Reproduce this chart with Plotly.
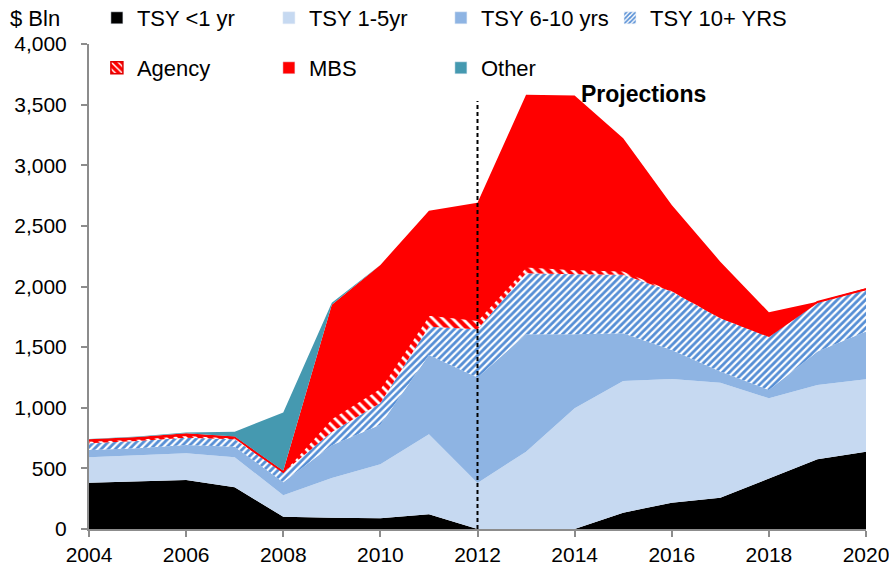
import plotly.graph_objects as go

years = list(range(2004, 2021))
tsy_lt1 = [382, 395, 404, 344, 101, 92, 88, 121, 0, 0, 0, 135, 217, 258, 418, 575, 638]
tsy_1_5 = [210, 213, 221, 248, 177, 328, 446, 660, 380, 638, 996, 1086, 1021, 949, 660, 613, 597]
tsy_6_10 = [60, 57, 68, 87, 107, 270, 326, 655, 870, 968, 610, 394, 239, 91, 69, 275, 393]
tsy_10p = [55, 60, 60, 61, 80, 110, 180, 233, 398, 504, 495, 481, 481, 440, 440, 404, 344]
agency = [20, 20, 22, 15, 5, 115, 125, 97, 76, 54, 41, 35, 12, 10, 5, 5, 6]
mbs = [13, 13, 15, 7, 10, 935, 1013, 858, 966, 1417, 1433, 1092, 703, 457, 196, 3, 8]
other = [2, 4, 5, 41, 480, 15, 0, 0, 0, 0, 0, 0, 0, 0, 0, 0, 0]

names = ["TSY <1 yr", "TSY 1-5yr", "TSY 6-10 yrs", "TSY 10+ YRS", "Agency", "MBS", "Other"]
values = [tsy_lt1, tsy_1_5, tsy_6_10, tsy_10p, agency, mbs, other]
legend_ids = ["legend", "legend", "legend", "legend3", "legend2", "legend2", "legend2"]

FONT = "Liberation Sans, Arial, sans-serif"
BLUE_STRIPE = "#558ed5"
styles = [
    dict(color="#000000", pattern=None, line=0),
    dict(color="#c6d9f1", pattern=None, line=0),
    dict(color="#8eb4e3", pattern=None, line=0),
    dict(color="#ffffff", pattern=dict(shape="/", fgcolor=BLUE_STRIPE, bgcolor="#ffffff",
                                       size=5, solidity=0.55, fgopacity=1), line=0),
    dict(color="#ff0000", pattern=dict(shape="\\", fgcolor="#ffffff", bgcolor="#ff0000",
                                       size=7, solidity=0.4, fgopacity=1), line=2),
    dict(color="#ff0000", pattern=None, line=0),
    dict(color="#4599b0", pattern=None, line=0),
]

fig = go.Figure()
for name, vals, st in zip(names, values, styles):
    kw = dict(x=years, y=vals, name=name, stackgroup="one", mode="lines",
              line=dict(width=st["line"], color="#ff0000" if st["line"] else st["color"]),
              fillcolor=st["color"], showlegend=False, hoverinfo="skip")
    if st["pattern"]:
        kw["fillpattern"] = st["pattern"]
    fig.add_trace(go.Scatter(**kw))

# legend entries
for name, st, lid in zip(names, styles, legend_ids):
    marker = dict(color=st["color"])
    if st["pattern"]:
        sol = 0.3 if name == "Agency" else 0.55
        sz = 6 if name == "Agency" else 4
        marker["pattern"] = dict(shape=st["pattern"]["shape"], fgcolor=st["pattern"]["fgcolor"],
                                 bgcolor=st["pattern"]["bgcolor"], size=sz, solidity=sol, fgopacity=1)
    if name == "Agency":
        marker["line"] = dict(color="#e00000", width=1.5)
    fig.add_trace(go.Bar(x=[None], y=[None], name=name, marker=marker,
                         legend=lid, showlegend=True))

fig.add_shape(type="line", x0=2012, x1=2012, y0=0, y1=3530, xref="x", yref="y",
              line=dict(color="black", width=2, dash="4px,3px"))

fig.add_annotation(x=2014.1, y=3585, xref="x", yref="y", text="<b>Projections</b>",
                   showarrow=False, xanchor="left", yanchor="middle",
                   font=dict(family=FONT, size=23, color="black"))
fig.add_annotation(x=-0.104, y=1.0536, xref="paper", yref="paper", text="$ Bln",
                   showarrow=False, xanchor="left", yanchor="middle",
                   font=dict(family=FONT, size=22, color="black"))

legend_base = dict(orientation="h", xanchor="left", yanchor="middle",
                   xref="container", yref="container", traceorder="normal",
                   font=dict(family=FONT, size=22, color="black"),
                   bgcolor="rgba(0,0,0,0)", itemclick=False, itemdoubleclick=False)
legend_fixed = dict(legend_base, entrywidth=127, entrywidthmode="pixels")

fig.update_layout(
    width=889, height=569,
    margin=dict(l=89, r=23, t=44, b=40, autoexpand=False),
    paper_bgcolor="white", plot_bgcolor="white",
    font=dict(family=FONT, size=21, color="black"),
    showlegend=True,
    hovermode=False,
    legend=dict(x=0.109, y=1 - 18 / 569, **legend_fixed),
    legend3=dict(x=610 / 889, y=1 - 18 / 569, **legend_base),
    legend2=dict(x=0.109, y=1 - 68 / 569, **legend_fixed),
    xaxis=dict(range=[2004, 2020], tickvals=list(range(2004, 2021, 2)),
               showline=True, linecolor="#8c8c8c", linewidth=2,
               ticks="outside", ticklen=6, tickcolor="#8c8c8c", tickwidth=2,
               showgrid=False, zeroline=False, automargin=False, ticklabeloverflow="allow",
               tickfont=dict(family=FONT, size=21, color="black")),
    yaxis=dict(range=[0, 4000], tickvals=list(range(0, 4001, 500)), tickformat=",d",
               showline=True, linecolor="#8c8c8c", linewidth=2,
               ticks="outside", ticklen=6, tickcolor="#8c8c8c", tickwidth=2,
               ticklabelstandoff=10,
               showgrid=False, zeroline=False, automargin=False,
               tickfont=dict(family=FONT, size=21, color="black")),
)

fig.write_html("out.html", config={"displayModeBar": False},
               post_script="document.body.style.margin='0px';document.body.style.overflow='hidden';")
